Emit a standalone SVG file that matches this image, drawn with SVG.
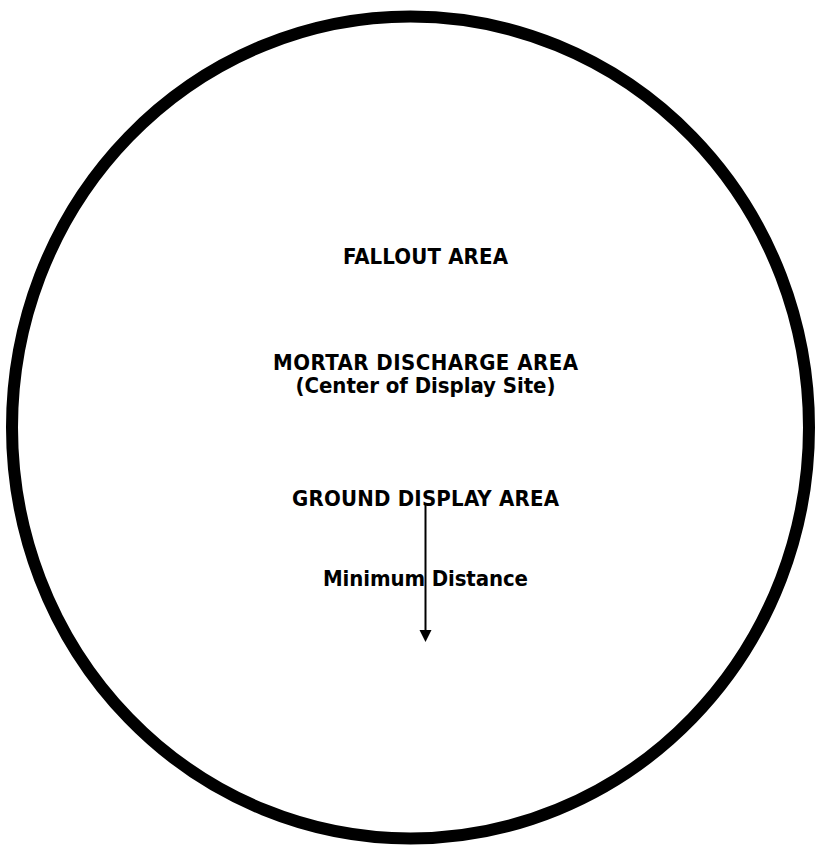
<svg xmlns="http://www.w3.org/2000/svg" width="817" height="846" viewBox="0 0 817 846">
  <style>
    .lbl { font-family: "DejaVu Sans Condensed", "DejaVu Sans", "Liberation Sans", sans-serif; font-stretch: condensed; font-weight: bold; font-size: 22px; fill: #000; text-anchor: middle; }
  </style>
  <rect width="817" height="846" fill="#fff"/>
  <g id="boundary">
    <ellipse cx="410.5" cy="427.5" rx="398.5" ry="411" fill="none" stroke="#000" stroke-width="12"/>
  </g>
  <g id="fallout-area">
    <text class="lbl" x="425.5" y="264" textLength="165">FALLOUT AREA</text>
  </g>
  <g id="mortar-discharge-area">
    <text class="lbl"><tspan x="425.5" y="370" textLength="305">MORTAR DISCHARGE AREA</tspan><tspan x="425.5" y="393" textLength="260">(Center of Display Site)</tspan></text>
  </g>
  <g id="ground-display-area">
    <text class="lbl" x="425.5" y="506" textLength="267">GROUND DISPLAY AREA</text>
  </g>
  <g id="minimum-distance">
    <text class="lbl" x="425.5" y="586" textLength="205">Minimum Distance</text>
  </g>
  <g id="connectors">
    <line x1="425.5" y1="505" x2="425.5" y2="632" stroke="#000" stroke-width="2"/>
    <path d="M419.5,630 L431.5,630 L425.5,642 Z" fill="#000"/>
  </g>
</svg>
